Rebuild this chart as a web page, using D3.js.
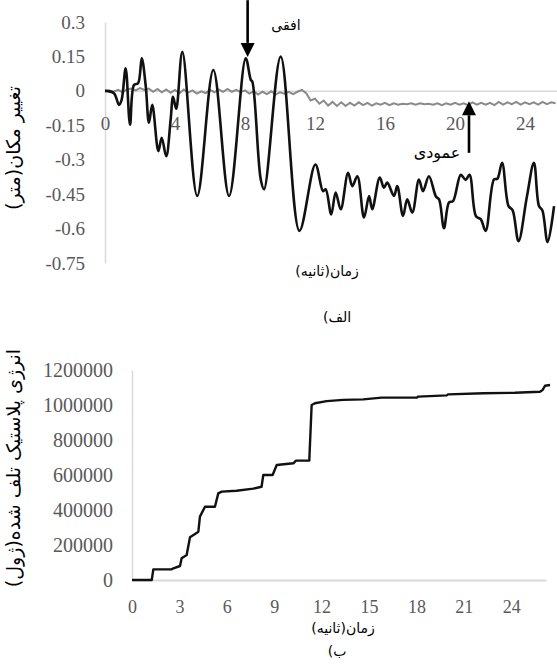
<!DOCTYPE html>
<html><head><meta charset="utf-8">
<script src="https://cdn.jsdelivr.net/npm/d3@7"></script>
<style>body{margin:0;background:#fff}svg{display:block}</style>
</head><body>
<svg id="c" width="557" height="665"></svg>
<script>
// ---- Top chart (displacement) ----
const topYTicks = [0.3, 0.15, 0, -0.15, -0.3, -0.45, -0.6, -0.75];
const topYLabels = ["0.3", "0.15", "0", "-0.15", "-0.3", "-0.45", "-0.6", "-0.75"];
const topXTicks = [0, 4, 8, 12, 16, 20, 24];
const horizT = [0,0.51,0.8,0.95,1.18,1.43,1.66,1.89,2.1,2.33,2.51,2.7,3.05,3.24,3.5,3.75,3.89,4.07,4.42,5.27,6.19,7.09,8.04,8.33,8.42,8.9,9.09,10.04,11.11,12.02,12.46,12.61,12.93,13.18,13.47,13.89,14.13,14.42,14.8,15.09,15.27,15.7,15.94,16.13,16.51,16.7,17.03,17.27,17.56,17.94,18.17,18.51,18.91,19.09,19.37,19.66,19.89,20.33,20.61,20.83,21.2,21.47,21.75,22.23,22.42,22.69,23.06,23.29,23.63,24.11,24.51,24.8,24.99,25.29,25.66];
const horizV = [0,-0.01,-0.061,-0.039,0.098,-0.147,0.026,0.033,0.142,0.019,-0.139,-0.061,-0.263,-0.204,-0.285,-0.126,-0.026,-0.078,0.17,-0.458,0.091,-0.458,0.142,0.048,0.04,-0.386,-0.429,0.149,-0.61,-0.321,-0.437,-0.429,-0.538,-0.443,-0.516,-0.357,-0.415,-0.372,-0.552,-0.458,-0.516,-0.378,-0.422,-0.4,-0.458,-0.415,-0.545,-0.473,-0.53,-0.386,-0.437,-0.372,-0.46,-0.473,-0.598,-0.486,-0.48,-0.366,-0.388,-0.366,-0.546,-0.559,-0.61,-0.386,-0.383,-0.313,-0.502,-0.52,-0.655,-0.46,-0.313,-0.502,-0.52,-0.659,-0.502];
const vertT0 = 0, vertDT = 0.25;
const vertV = [0,0.002,-0.004,0.004,-0.006,0.006,0.01,0.002,0.012,0.004,0.01,-0.004,0.008,-0.006,0.006,-0.008,0.004,-0.01,0.006,-0.008,0.002,-0.012,-0.002,-0.01,0.004,-0.006,0.006,-0.004,0.008,-0.004,0.004,-0.006,0.002,-0.012,-0.002,-0.016,-0.004,-0.014,-0.002,-0.016,-0.006,-0.012,-0.004,-0.014,-0.004,0.004,-0.01,-0.042,-0.034,-0.056,-0.042,-0.064,-0.048,-0.066,-0.05,-0.066,-0.052,-0.064,-0.05,-0.062,-0.052,-0.064,-0.054,-0.06,-0.052,-0.062,-0.054,-0.06,-0.056,-0.058,-0.054,-0.06,-0.054,-0.058,-0.056,-0.06,-0.054,-0.062,-0.054,-0.06,-0.052,-0.06,-0.054,-0.062,-0.05,-0.06,-0.052,-0.06,-0.052,-0.062,-0.048,-0.06,-0.05,-0.058,-0.048,-0.06,-0.05,-0.058,-0.05,-0.06,-0.048,-0.058,-0.05,-0.054];
const arrowHoriz = {t: 8.15, from: 0.395, to: 0.148, label: "افقی"};
const arrowVert = {t: 20.8, from: -0.27, to: -0.045, label: "عمودی"};

// ---- Bottom chart (plastic energy) ----
const botYTicks = [0, 200000, 400000, 600000, 800000, 1000000, 1200000];
const botXTicks = [0, 3, 6, 9, 12, 15, 18, 21, 24];
const energyT = [0,1.25,1.35,2.51,2.62,3.04,3.14,3.46,3.67,3.99,4.2,4.3,4.62,5.25,5.46,5.68,6.62,7.68,8.2,8.31,8.9,9.16,10.21,10.38,11.22,11.37,11.58,12.32,13.37,14.64,15.8,18.02,18.12,19.92,20.02,22.23,24.24,25.82,25.99,26.14,26.46];
const energyV = [0,0,61000,61000,67000,80000,124000,143000,244000,263000,276000,362000,419000,419000,495000,505000,510000,522000,533000,600000,600000,657000,667000,682000,682000,1000000,1010000,1022000,1029000,1032000,1042000,1042000,1048000,1055000,1061000,1067000,1070000,1076000,1086000,1110000,1114000];

const svg = d3.select("#c");
const arFont = "DejaVu Sans";
const numFont = "'Liberation Serif', 'DejaVu Serif', serif";
const axisCol = "#d9d9d9", labCol = "#595959";

function styleAxis(g, size, sw) {
  g.attr("font-family", null).attr("font-size", null);
  g.select(".domain").attr("stroke", axisCol).attr("stroke-width", sw);
  g.selectAll("text").attr("fill", labCol)
    .attr("style", `font-family:${numFont};font-size:${size}px`);
}

// Top scales
const xT = d3.scaleLinear().domain([0, 26]).range([105, 560]);
const yT = d3.scaleLinear().domain([-0.75, 0.3]).range([263, 22]);

const gYT = svg.append("g").attr("transform", `translate(${xT(0)},0)`)
  .call(d3.axisLeft(yT).tickValues(topYTicks).tickFormat((d,i)=>topYLabels[i]).tickSize(0).tickPadding(20));
const gXT = svg.append("g").attr("transform", `translate(0,${yT(0)})`)
  .call(d3.axisBottom(xT).tickValues(topXTicks).tickFormat(d3.format("d")).tickSize(0).tickPadding(26));
styleAxis(gYT, 19, 1.5);
styleAxis(gXT, 19, 1.5);

const vertData = vertV.map((v,i)=>({t: vertT0 + i*vertDT, v}));
svg.append("path").datum(vertData)
  .attr("fill","none").attr("stroke","#8a8a8a").attr("stroke-width",2)
  .attr("d", d3.line().x(d=>xT(d.t)).y(d=>yT(d.v)));
const horizData = horizT.map((t,i)=>({t, v: horizV[i]}));
svg.append("path").datum(horizData)
  .attr("fill","none").attr("stroke","#111").attr("stroke-width",2.6).attr("stroke-linejoin","round")
  .attr("d", d3.line().x(d=>xT(d.t)).y(d=>yT(d.v)).curve(d3.curveCatmullRom.alpha(0.5)));

function arrow(a, dirDown) {
  const x = xT(a.t), y0 = yT(a.from), y1 = yT(a.to);
  const hl = 14, hw = 7;
  const sgn = dirDown ? -1 : 1;
  svg.append("line").attr("x1", x).attr("x2", x).attr("y1", y0).attr("y2", y1 + sgn*hl)
    .attr("stroke", "#000").attr("stroke-width", 2.6);
  svg.append("path").attr("d", `M${x},${y1} L${x-hw},${y1+sgn*hl} L${x+hw},${y1+sgn*hl} Z`).attr("fill","#000");
}
arrow(arrowHoriz, true);
arrow(arrowVert, false);
svg.append("text").attr("x", 286).attr("y", 30).attr("text-anchor","middle")
  .attr("font-family", arFont).attr("font-size", 14).text(arrowHoriz.label);
svg.append("text").attr("x", 437).attr("y", 158).attr("text-anchor","middle")
  .attr("font-family", arFont).attr("font-size", 16).text(arrowVert.label);

svg.append("text").attr("transform","translate(20,148) rotate(-90)").attr("text-anchor","middle")
  .attr("direction","rtl").attr("font-family", arFont).attr("font-size", 19).text("تغییر مکان(متر)");
svg.append("text").attr("x", 327).attr("y", 276).attr("text-anchor","middle")
  .attr("direction","rtl").attr("font-family", arFont).attr("font-size", 14).text("زمان(ثانیه)");
svg.append("text").attr("x", 337).attr("y", 322).attr("text-anchor","middle")
  .attr("font-family", arFont).attr("font-size", 14).text("(الف");

// Bottom scales
const xB = d3.scaleLinear().domain([0, 26.2]).range([132, 132 + 26.2*15.8]);
const yB = d3.scaleLinear().domain([0, 1200000]).range([580, 370]);
const gYB = svg.append("g").attr("transform", `translate(${xB(0)},0)`)
  .call(d3.axisLeft(yB).tickValues(botYTicks).tickFormat(d3.format("d")).tickSize(0).tickPadding(19));
const gXB = svg.append("g").attr("transform", `translate(0,${yB(0)})`)
  .call(d3.axisBottom(xB).tickValues(botXTicks).tickFormat(d3.format("d")).tickSize(0).tickPadding(20));
styleAxis(gYB, 20, 1.5);
styleAxis(gXB, 18, 2);

const energyData = energyT.map((t,i)=>({t, v: energyV[i]}));
svg.append("path").datum(energyData)
  .attr("fill","none").attr("stroke","#111").attr("stroke-width",2.4).attr("stroke-linejoin","round")
  .attr("d", d3.line().x(d=>xB(d.t)).y(d=>yB(d.v)));

svg.append("text").attr("transform","translate(20,468) rotate(-90)").attr("text-anchor","middle")
  .attr("direction","rtl").attr("font-family", arFont).attr("font-size", 19).text("انرژی پلاستیک تلف شده(ژول)");
svg.append("text").attr("x", 343).attr("y", 633).attr("text-anchor","middle")
  .attr("direction","rtl").attr("font-family", arFont).attr("font-size", 14).text("زمان(ثانیه)");
svg.append("text").attr("x", 337).attr("y", 656).attr("text-anchor","middle")
  .attr("font-family", arFont).attr("font-size", 14).text("(ب");
</script>
</body></html>
